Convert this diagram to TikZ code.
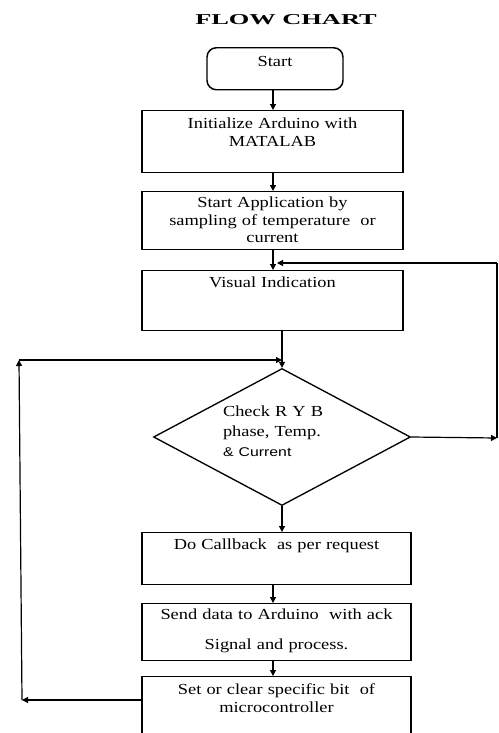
\documentclass[tikz,border=0pt]{standalone}
\usepackage{fontspec}
\setmainfont{Liberation Serif}[FakeStretch=1.2]
\newfontfamily\titlefont{Liberation Serif}[FakeStretch=1.75]
\newfontfamily\curfont{Liberation Sans}[FakeStretch=1.25]
\usetikzlibrary{shapes.geometric,arrows.meta}

\tikzset{
  box/.style={draw, line width=1.1pt, rectangle, inner xsep=2pt, inner ysep=0pt,
    align=center, anchor=north, font=\fontsize{11.5}{13.5}\selectfont},
  startbox/.style={box, rounded corners=7pt, text width=98pt},
  widebox/.style={box, text width=191.75pt},
  widerbox/.style={box, text width=197.75pt},
  decision/.style={draw, line width=1pt, diamond, aspect=1.9, inner sep=0pt,
    align=left, font=\fontsize{11.5}{15}\selectfont},
  arr/.style={line width=0.9pt, -{Triangle[length=4.5pt,width=4.5pt]}},
  conn/.style={line width=0.9pt}
}

\begin{document}
\begin{tikzpicture}[x=0.75pt, y=-0.75pt]
    \clip (0,0) rectangle (499,733);

    \node[font=\titlefont\bfseries\fontsize{11.3}{13}\selectfont] (title) at (286,20) {FLOW CHART};

    % main column
    \node[startbox, text height=14.25pt, text depth=17.25pt] (start) at (275,47) {Start};
    \node[widebox, text height=13.5pt, text depth=33pt] (init) at (272.5,110) {Initialize Arduino with\\MATALAB};
    \node[widebox, text height=12pt, text depth=31.5pt, font=\fontsize{11.5}{13}\selectfont] (app) at (272.5,191) {Start Application by\\sampling of temperature\ \ or\\current};
    \node[widebox, text height=12.75pt, text depth=32.25pt] (visual) at (272.5,270) {Visual Indication};
    \node[decision, minimum width=192.75pt, minimum height=102.75pt, text width=88.5pt,
          text height=6.75pt, text depth=38.25pt] (check) at (282,437)
          {Check R Y B\\phase, Temp.\\{\curfont\fontsize{9.5}{12}\selectfont \& Current}};
    \node[widerbox, text height=12.75pt, text depth=26.25pt] (callback) at (276.5,532) {Do Callback\ \ as per request};
    \node[widerbox, text height=12pt, text depth=30.75pt] (send) at (276.5,603) {Send data to Arduino\ \ with ack\\[9pt]Signal and process.};
    \node[widerbox, text height=13.5pt, text depth=36pt] (set) at (276.5,676) {Set or clear specific bit\ \ of\\microcontroller};

    \coordinate (col) at (273,0);
    \coordinate (rb) at (497,438);
    \coordinate (rt) at (497,263);
    \coordinate (lb) at (22,700);
    \coordinate (lt) at (19,360);

    \draw[arr] (col |- start.south) -- (col |- init.north);
    \draw[arr] (col |- init.south) -- (col |- app.north);
    \draw[arr] (col |- app.south) -- (col |- visual.north);
    \draw[arr] (check.north |- visual.south) -- (check.north);
    \draw[arr] (check.south) -- (check.south |- callback.north);
    \draw[arr] (col |- callback.south) -- (col |- send.north);
    \draw[arr] (col |- send.south) -- (col |- set.north);

    % loop back on the right
    \draw[arr] (check.east) -- (rb);
    \draw[conn] (rb) -- (rt);
    \draw[arr] (rt) -- ([xshift=3pt]col |- rt);

    % loop back on the left
    \draw[arr] (set.west |- lb) -- (lb);
    \draw[arr] (lb) -- (lt);
    \draw[arr] (lt) -- (check.north |- lt);
\end{tikzpicture}
\end{document}
